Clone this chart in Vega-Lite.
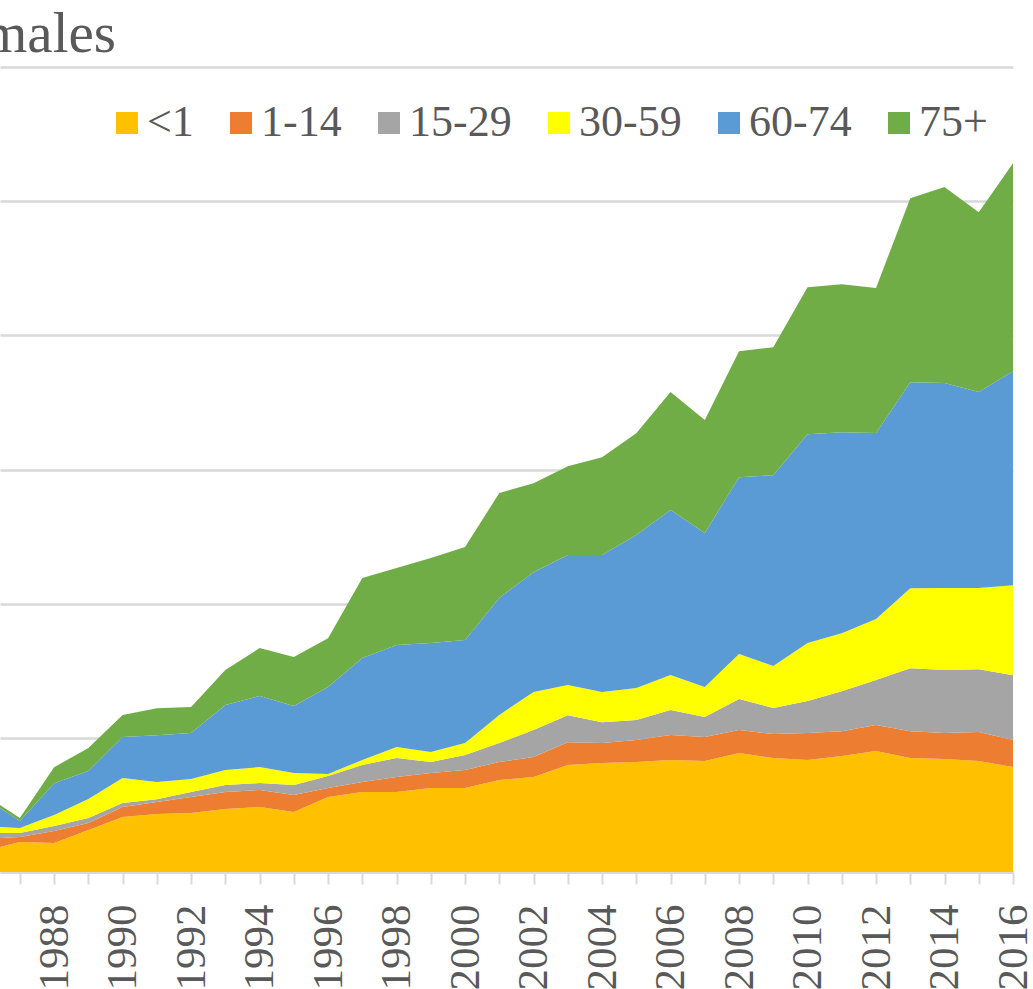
{
  "$schema": "https://vega.github.io/schema/vega-lite/v6.json",
  "width": 1013,
  "height": 805,
  "autosize": {"type": "none"},
  "padding": {"left": 0, "top": 67, "right": 20, "bottom": 117},
  "background": "white",
  "title": {"text": "Females", "anchor": "start", "frame": "group", "font": "Liberation Serif", "fontSize": 57, "fontWeight": "normal", "color": "#595959", "baseline": "alphabetic", "offset": 17, "dx": -74, "dy": 59},
  "config": {"view": {"stroke": null}},
  "data": {"values": [
    {"year":1986,"age":"<1","v":15.9},{"year":1986,"age":"1-14","v":8.9},{"year":1986,"age":"15-29","v":4.2},{"year":1986,"age":"30-59","v":5.0},{"year":1986,"age":"60-74","v":20.7},{"year":1986,"age":"75+","v":2.2},
    {"year":1987,"age":"<1","v":22.4},{"year":1987,"age":"1-14","v":3.7},{"year":1987,"age":"15-29","v":3.0},{"year":1987,"age":"30-59","v":3.7},{"year":1987,"age":"60-74","v":5.2},{"year":1987,"age":"75+","v":2.2},
    {"year":1988,"age":"<1","v":21.6},{"year":1988,"age":"1-14","v":8.9},{"year":1988,"age":"15-29","v":3.7},{"year":1988,"age":"30-59","v":8.2},{"year":1988,"age":"60-74","v":23.8},{"year":1988,"age":"75+","v":11.9},
    {"year":1989,"age":"<1","v":31.3},{"year":1989,"age":"1-14","v":5.2},{"year":1989,"age":"15-29","v":3.7},{"year":1989,"age":"30-59","v":14.2},{"year":1989,"age":"60-74","v":20.9},{"year":1989,"age":"75+","v":17.1},
    {"year":1990,"age":"<1","v":41.0},{"year":1990,"age":"1-14","v":7.5},{"year":1990,"age":"15-29","v":3.0},{"year":1990,"age":"30-59","v":18.6},{"year":1990,"age":"60-74","v":30.6},{"year":1990,"age":"75+","v":16.4},
    {"year":1991,"age":"<1","v":43.2},{"year":1991,"age":"1-14","v":8.9},{"year":1991,"age":"15-29","v":2.2},{"year":1991,"age":"30-59","v":12.7},{"year":1991,"age":"60-74","v":35.0},{"year":1991,"age":"75+","v":20.1},
    {"year":1992,"age":"<1","v":44.0},{"year":1992,"age":"1-14","v":11.9},{"year":1992,"age":"15-29","v":3.7},{"year":1992,"age":"30-59","v":9.7},{"year":1992,"age":"60-74","v":34.3},{"year":1992,"age":"75+","v":19.4},
    {"year":1993,"age":"<1","v":46.9},{"year":1993,"age":"1-14","v":12.7},{"year":1993,"age":"15-29","v":5.2},{"year":1993,"age":"30-59","v":11.2},{"year":1993,"age":"60-74","v":48.4},{"year":1993,"age":"75+","v":26.1},
    {"year":1994,"age":"<1","v":48.4},{"year":1994,"age":"1-14","v":12.7},{"year":1994,"age":"15-29","v":5.2},{"year":1994,"age":"30-59","v":11.9},{"year":1994,"age":"60-74","v":52.9},{"year":1994,"age":"75+","v":35.8},
    {"year":1995,"age":"<1","v":44.7},{"year":1995,"age":"1-14","v":12.7},{"year":1995,"age":"15-29","v":7.5},{"year":1995,"age":"30-59","v":8.9},{"year":1995,"age":"60-74","v":49.9},{"year":1995,"age":"75+","v":36.5},
    {"year":1996,"age":"<1","v":55.9},{"year":1996,"age":"1-14","v":6.7},{"year":1996,"age":"15-29","v":8.9},{"year":1996,"age":"30-59","v":1.5},{"year":1996,"age":"60-74","v":64.8},{"year":1996,"age":"75+","v":36.5},
    {"year":1997,"age":"<1","v":59.6},{"year":1997,"age":"1-14","v":7.5},{"year":1997,"age":"15-29","v":12.7},{"year":1997,"age":"30-59","v":3.7},{"year":1997,"age":"60-74","v":76.0},{"year":1997,"age":"75+","v":59.6},
    {"year":1998,"age":"<1","v":59.6},{"year":1998,"age":"1-14","v":11.2},{"year":1998,"age":"15-29","v":14.2},{"year":1998,"age":"30-59","v":8.2},{"year":1998,"age":"60-74","v":76.0},{"year":1998,"age":"75+","v":57.4},
    {"year":1999,"age":"<1","v":62.6},{"year":1999,"age":"1-14","v":11.2},{"year":1999,"age":"15-29","v":8.2},{"year":1999,"age":"30-59","v":7.5},{"year":1999,"age":"60-74","v":81.2},{"year":1999,"age":"75+","v":63.3},
    {"year":2000,"age":"<1","v":62.6},{"year":2000,"age":"1-14","v":13.4},{"year":2000,"age":"15-29","v":11.2},{"year":2000,"age":"30-59","v":8.9},{"year":2000,"age":"60-74","v":76.8},{"year":2000,"age":"75+","v":69.3},
    {"year":2001,"age":"<1","v":68.6},{"year":2001,"age":"1-14","v":13.4},{"year":2001,"age":"15-29","v":14.2},{"year":2001,"age":"30-59","v":20.9},{"year":2001,"age":"60-74","v":87.2},{"year":2001,"age":"75+","v":78.2},
    {"year":2002,"age":"<1","v":70.8},{"year":2002,"age":"1-14","v":14.9},{"year":2002,"age":"15-29","v":20.1},{"year":2002,"age":"30-59","v":28.3},{"year":2002,"age":"60-74","v":89.4},{"year":2002,"age":"75+","v":66.3},
    {"year":2003,"age":"<1","v":79.7},{"year":2003,"age":"1-14","v":17.1},{"year":2003,"age":"15-29","v":20.1},{"year":2003,"age":"30-59","v":22.4},{"year":2003,"age":"60-74","v":96.9},{"year":2003,"age":"75+","v":66.3},
    {"year":2004,"age":"<1","v":81.2},{"year":2004,"age":"1-14","v":14.9},{"year":2004,"age":"15-29","v":15.6},{"year":2004,"age":"30-59","v":22.4},{"year":2004,"age":"60-74","v":102.1},{"year":2004,"age":"75+","v":73.0},
    {"year":2005,"age":"<1","v":82.0},{"year":2005,"age":"1-14","v":16.4},{"year":2005,"age":"15-29","v":14.9},{"year":2005,"age":"30-59","v":23.8},{"year":2005,"age":"60-74","v":114.0},{"year":2005,"age":"75+","v":76.0},
    {"year":2006,"age":"<1","v":83.5},{"year":2006,"age":"1-14","v":18.6},{"year":2006,"age":"15-29","v":18.6},{"year":2006,"age":"30-59","v":26.1},{"year":2006,"age":"60-74","v":123.0},{"year":2006,"age":"75+","v":87.9},
    {"year":2007,"age":"<1","v":82.7},{"year":2007,"age":"1-14","v":17.9},{"year":2007,"age":"15-29","v":14.9},{"year":2007,"age":"30-59","v":22.4},{"year":2007,"age":"60-74","v":114.8},{"year":2007,"age":"75+","v":84.2},
    {"year":2008,"age":"<1","v":88.7},{"year":2008,"age":"1-14","v":17.1},{"year":2008,"age":"15-29","v":23.1},{"year":2008,"age":"30-59","v":33.5},{"year":2008,"age":"60-74","v":131.9},{"year":2008,"age":"75+","v":93.9},
    {"year":2009,"age":"<1","v":84.9},{"year":2009,"age":"1-14","v":17.9},{"year":2009,"age":"15-29","v":19.4},{"year":2009,"age":"30-59","v":31.3},{"year":2009,"age":"60-74","v":142.3},{"year":2009,"age":"75+","v":95.4},
    {"year":2010,"age":"<1","v":83.5},{"year":2010,"age":"1-14","v":20.1},{"year":2010,"age":"15-29","v":23.8},{"year":2010,"age":"30-59","v":43.2},{"year":2010,"age":"60-74","v":155.7},{"year":2010,"age":"75+","v":109.5},
    {"year":2011,"age":"<1","v":86.4},{"year":2011,"age":"1-14","v":18.6},{"year":2011,"age":"15-29","v":29.8},{"year":2011,"age":"30-59","v":43.2},{"year":2011,"age":"60-74","v":149.8},{"year":2011,"age":"75+","v":110.3},
    {"year":2012,"age":"<1","v":90.2},{"year":2012,"age":"1-14","v":19.4},{"year":2012,"age":"15-29","v":33.5},{"year":2012,"age":"30-59","v":45.5},{"year":2012,"age":"60-74","v":138.6},{"year":2012,"age":"75+","v":108.0},
    {"year":2013,"age":"<1","v":84.9},{"year":2013,"age":"1-14","v":20.1},{"year":2013,"age":"15-29","v":46.9},{"year":2013,"age":"30-59","v":59.6},{"year":2013,"age":"60-74","v":153.5},{"year":2013,"age":"75+","v":137.1},
    {"year":2014,"age":"<1","v":84.2},{"year":2014,"age":"1-14","v":19.4},{"year":2014,"age":"15-29","v":46.9},{"year":2014,"age":"30-59","v":61.1},{"year":2014,"age":"60-74","v":152.8},{"year":2014,"age":"75+","v":146.1},
    {"year":2015,"age":"<1","v":82.7},{"year":2015,"age":"1-14","v":21.6},{"year":2015,"age":"15-29","v":46.9},{"year":2015,"age":"30-59","v":60.4},{"year":2015,"age":"60-74","v":146.1},{"year":2015,"age":"75+","v":134.1},
    {"year":2016,"age":"<1","v":78.2},{"year":2016,"age":"1-14","v":20.1},{"year":2016,"age":"15-29","v":48.4},{"year":2016,"age":"30-59","v":67.1},{"year":2016,"age":"60-74","v":159.5},{"year":2016,"age":"75+","v":155.0}
  ]},
  "transform": [
    {"calculate": "indexof(['<1','1-14','15-29','30-59','60-74','75+'], datum.age)", "as": "rank"}
  ],
  "mark": {"type": "area", "clip": true, "interpolate": "linear", "opacity": 1},
  "encoding": {
    "x": {
      "field": "year", "type": "quantitative",
      "scale": {"domain": [1986.42, 2016], "nice": false, "zero": false},
      "axis": {
        "title": null, "grid": false,
        "values": [1986,1987,1988,1989,1990,1991,1992,1993,1994,1995,1996,1997,1998,1999,2000,2001,2002,2003,2004,2005,2006,2007,2008,2009,2010,2011,2012,2013,2014,2015,2016],
        "format": "d",
        "labelExpr": "datum.value % 2 === 0 ? datum.label : ''",
        "labelAngle": -90, "labelFlush": false, "labelOverlap": false, "labelBound": false,
        "labelFont": "Liberation Serif", "labelFontSize": 43, "labelColor": "#595959", "labelPadding": 20,
        "tickSize": 12, "tickColor": "#d9d9d9", "tickWidth": 2,
        "domainColor": "#d9d9d9", "domainWidth": 3
      }
    },
    "y": {
      "field": "v", "type": "quantitative", "stack": "zero",
      "scale": {"domain": [0, 600], "nice": false},
      "axis": {"title": null, "labels": false, "ticks": false, "domain": false, "grid": true, "gridColor": "#d9d9d9", "gridWidth": 2.5, "values": [0,100,200,300,400,500,600]}
    },
    "color": {
      "field": "age", "type": "nominal",
      "scale": {"domain": ["<1","1-14","15-29","30-59","60-74","75+"], "range": ["#FFC000","#ED7D31","#A5A5A5","#FFFF00","#5B9BD5","#70AD47"]},
      "legend": {
        "title": null, "orient": "none", "legendX": 105, "legendY": 34, "direction": "horizontal", "padding": 0,
        "symbolType": "square", "symbolSize": 484, "symbolStrokeWidth": 0, "symbolOpacity": 1,
        "labelFont": "Liberation Serif", "labelFontSize": 44, "labelColor": "#595959", "labelOffset": -2, "columnPadding": 25
      }
    },
    "order": {"field": "rank", "type": "quantitative", "sort": "ascending"}
  }
}
